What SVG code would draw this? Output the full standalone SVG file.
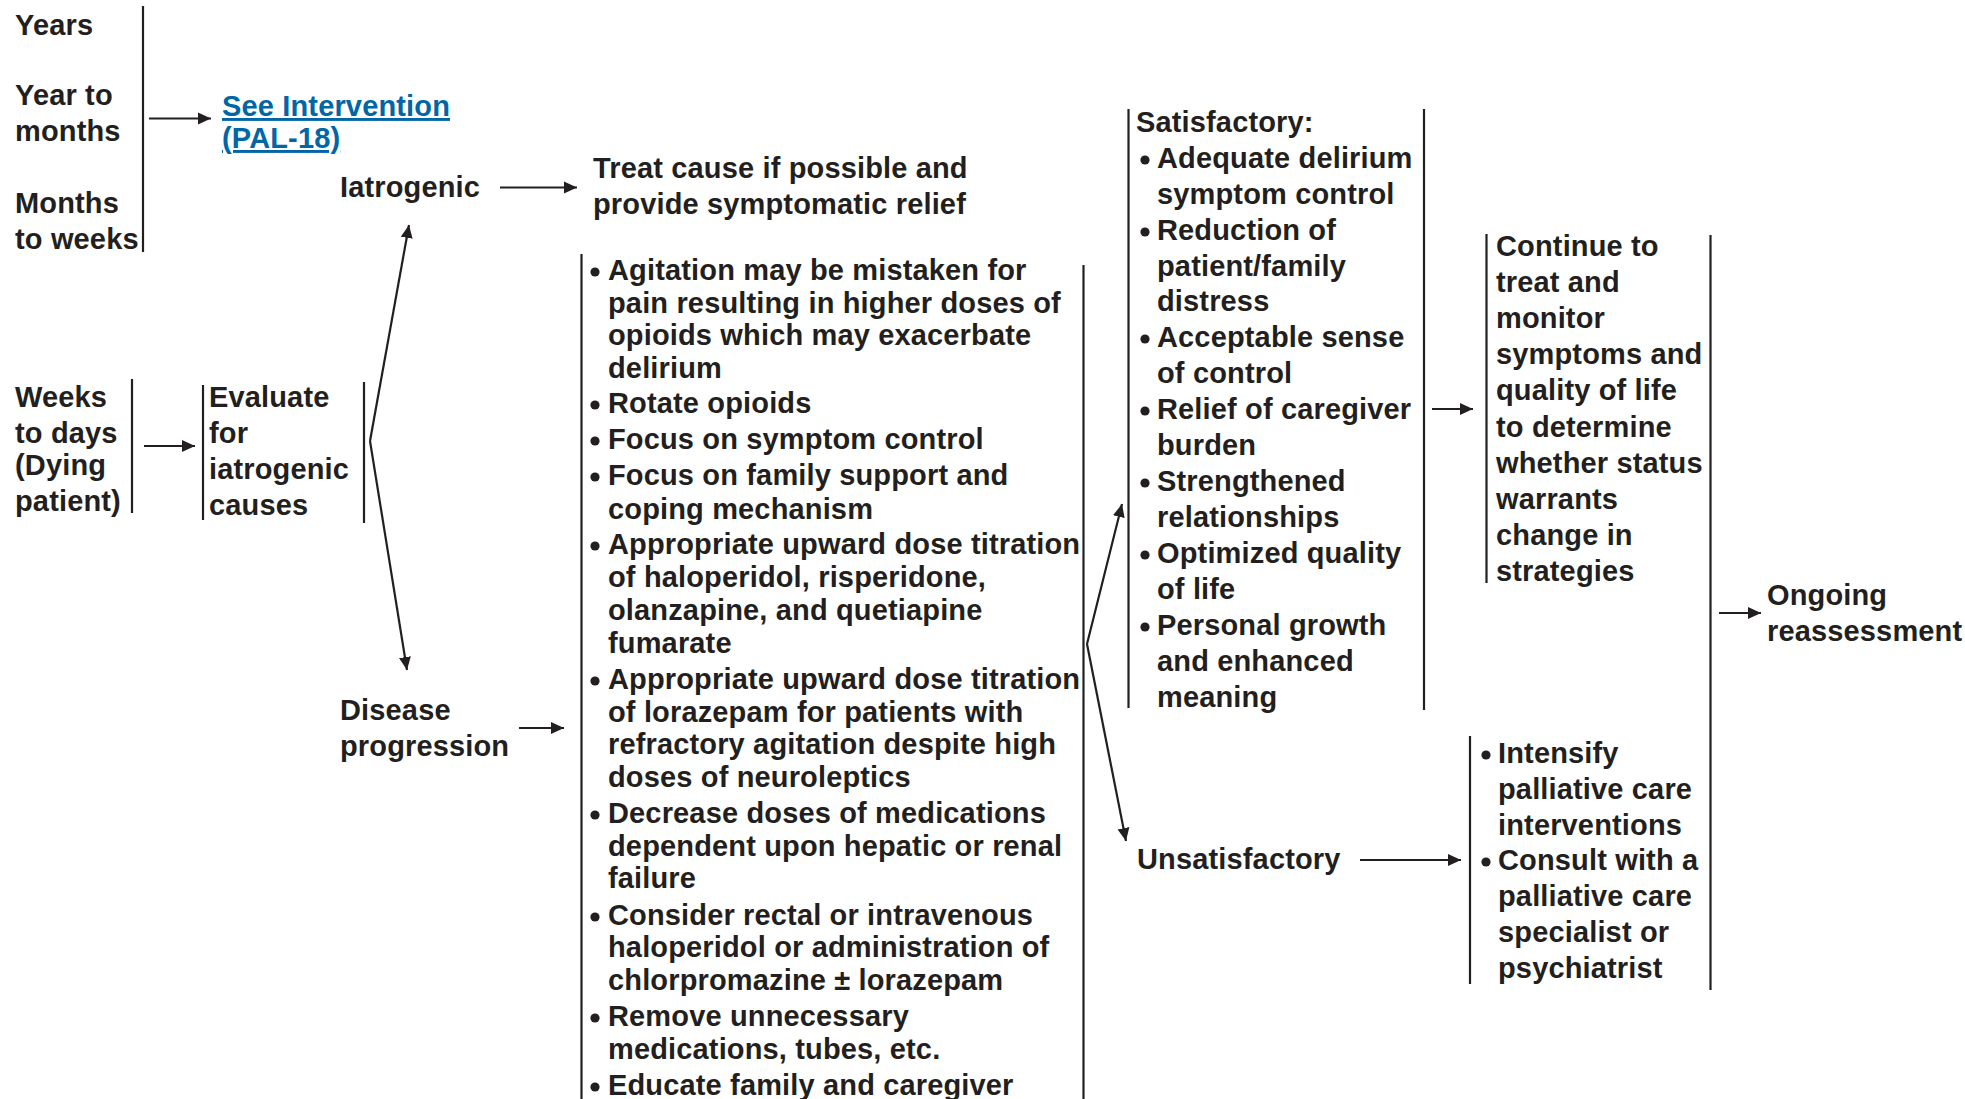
<svg xmlns="http://www.w3.org/2000/svg" width="1965" height="1099" viewBox="0 0 1965 1099">
<style>
.t{font-family:"Liberation Sans",Arial,Helvetica,sans-serif;font-weight:bold;font-size:29px;letter-spacing:0.15px;fill:#231f20}
.link{fill:#0066a6;text-decoration:underline}
.br{stroke:#231f20;stroke-width:2.2;fill:none}
.cn{stroke:#231f20;stroke-width:2.2;fill:none;marker-end:url(#ah)}
.bu{fill:#231f20}
</style>
<defs>
<marker id="ah" markerUnits="userSpaceOnUse" markerWidth="14" markerHeight="13" refX="13" refY="6.5" orient="auto">
<path d="M0,0.5 L13,6.5 L0,12.5 z" fill="#231f20"/>
</marker>
</defs>
<rect width="1965" height="1099" fill="#ffffff"/>

<g id="timeframes-early">
<text class="t"><tspan x="15" y="35">Years</tspan><tspan x="15" y="105">Year to</tspan><tspan x="15" y="141">months</tspan><tspan x="15" y="213">Months</tspan><tspan x="15" y="249">to weeks</tspan></text>
<line class="br" x1="143" y1="6" x2="143" y2="252"/>
</g>

<g id="see-intervention">
<text class="t link"><tspan x="222" y="116">See Intervention</tspan><tspan x="222" y="148">(PAL-18)</tspan></text>
</g>

<g id="weeks-to-days">
<text class="t"><tspan x="15" y="407">Weeks</tspan><tspan x="15" y="443">to days</tspan><tspan x="15" y="475">(Dying</tspan><tspan x="15" y="511">patient)</tspan></text>
<line class="br" x1="132" y1="379" x2="132" y2="513"/>
</g>

<g id="evaluate">
<line class="br" x1="203" y1="385" x2="203" y2="520"/>
<text class="t"><tspan x="209" y="407">Evaluate</tspan><tspan x="209" y="443">for</tspan><tspan x="209" y="479">iatrogenic</tspan><tspan x="209" y="515">causes</tspan></text>
<line class="br" x1="364" y1="382" x2="364" y2="523"/>
</g>

<g id="iatrogenic">
<text class="t" x="340" y="197">Iatrogenic</text>
</g>

<g id="treat-cause">
<text class="t"><tspan x="593" y="178">Treat cause if possible and</tspan><tspan x="593" y="214">provide symptomatic relief</tspan></text>
</g>

<g id="disease-progression">
<text class="t"><tspan x="340" y="720">Disease</tspan><tspan x="340" y="756">progression</tspan></text>
</g>

<g id="interventions">
<line class="br" x1="581.5" y1="254" x2="581.5" y2="1099"/>
<line class="br" x1="1083.5" y1="265" x2="1083.5" y2="1099"/>
<circle class="bu" cx="595" cy="272" r="4.6"/>
<circle class="bu" cx="595" cy="405" r="4.6"/>
<circle class="bu" cx="595" cy="441" r="4.6"/>
<circle class="bu" cx="595" cy="477" r="4.6"/>
<circle class="bu" cx="595" cy="546" r="4.6"/>
<circle class="bu" cx="595" cy="681" r="4.6"/>
<circle class="bu" cx="595" cy="815" r="4.6"/>
<circle class="bu" cx="595" cy="917" r="4.6"/>
<circle class="bu" cx="595" cy="1018" r="4.6"/>
<circle class="bu" cx="595" cy="1087" r="4.6"/>
<text class="t">
<tspan x="608" y="280">Agitation may be mistaken for</tspan>
<tspan x="608" y="313">pain resulting in higher doses of</tspan>
<tspan x="608" y="345">opioids which may exacerbate</tspan>
<tspan x="608" y="378">delirium</tspan>
<tspan x="608" y="413">Rotate opioids</tspan>
<tspan x="608" y="449">Focus on symptom control</tspan>
<tspan x="608" y="485">Focus on family support and</tspan>
<tspan x="608" y="519">coping mechanism</tspan>
<tspan x="608" y="554">Appropriate upward dose titration</tspan>
<tspan x="608" y="587">of haloperidol, risperidone,</tspan>
<tspan x="608" y="620">olanzapine, and quetiapine</tspan>
<tspan x="608" y="653">fumarate</tspan>
<tspan x="608" y="689">Appropriate upward dose titration</tspan>
<tspan x="608" y="722">of lorazepam for patients with</tspan>
<tspan x="608" y="754">refractory agitation despite high</tspan>
<tspan x="608" y="787">doses of neuroleptics</tspan>
<tspan x="608" y="823">Decrease doses of medications</tspan>
<tspan x="608" y="856">dependent upon hepatic or renal</tspan>
<tspan x="608" y="888">failure</tspan>
<tspan x="608" y="925">Consider rectal or intravenous</tspan>
<tspan x="608" y="957">haloperidol or administration of</tspan>
<tspan x="608" y="990">chlorpromazine ± lorazepam</tspan>
<tspan x="608" y="1026">Remove unnecessary</tspan>
<tspan x="608" y="1059">medications, tubes, etc.</tspan>
<tspan x="608" y="1095">Educate family and caregiver</tspan>
</text>
</g>

<g id="satisfactory">
<line class="br" x1="1128.5" y1="109" x2="1128.5" y2="708"/>
<line class="br" x1="1424" y1="109" x2="1424" y2="710"/>
<circle class="bu" cx="1145" cy="160" r="4.6"/>
<circle class="bu" cx="1145" cy="232" r="4.6"/>
<circle class="bu" cx="1145" cy="339" r="4.6"/>
<circle class="bu" cx="1145" cy="411" r="4.6"/>
<circle class="bu" cx="1145" cy="483" r="4.6"/>
<circle class="bu" cx="1145" cy="555" r="4.6"/>
<circle class="bu" cx="1145" cy="627" r="4.6"/>
<text class="t">
<tspan x="1136" y="132">Satisfactory:</tspan>
<tspan x="1157" y="168">Adequate delirium</tspan>
<tspan x="1157" y="204">symptom control</tspan>
<tspan x="1157" y="240">Reduction of</tspan>
<tspan x="1157" y="276">patient/family</tspan>
<tspan x="1157" y="311">distress</tspan>
<tspan x="1157" y="347">Acceptable sense</tspan>
<tspan x="1157" y="383">of control</tspan>
<tspan x="1157" y="419">Relief of caregiver</tspan>
<tspan x="1157" y="455">burden</tspan>
<tspan x="1157" y="491">Strengthened</tspan>
<tspan x="1157" y="527">relationships</tspan>
<tspan x="1157" y="563">Optimized quality</tspan>
<tspan x="1157" y="599">of life</tspan>
<tspan x="1157" y="635">Personal growth</tspan>
<tspan x="1157" y="671">and enhanced</tspan>
<tspan x="1157" y="707">meaning</tspan>
</text>
</g>

<g id="unsatisfactory">
<text class="t" x="1137" y="869">Unsatisfactory</text>
</g>

<g id="continue">
<line class="br" x1="1486.5" y1="234" x2="1486.5" y2="583"/>
<text class="t">
<tspan x="1496" y="256">Continue to</tspan>
<tspan x="1496" y="292">treat and</tspan>
<tspan x="1496" y="328">monitor</tspan>
<tspan x="1496" y="364">symptoms and</tspan>
<tspan x="1496" y="400">quality of life</tspan>
<tspan x="1496" y="437">to determine</tspan>
<tspan x="1496" y="473">whether status</tspan>
<tspan x="1496" y="509">warrants</tspan>
<tspan x="1496" y="545">change in</tspan>
<tspan x="1496" y="581">strategies</tspan>
</text>
</g>

<g id="intensify">
<line class="br" x1="1470" y1="736" x2="1470" y2="984"/>
<circle class="bu" cx="1486" cy="755" r="4.6"/>
<circle class="bu" cx="1486" cy="862" r="4.6"/>
<text class="t">
<tspan x="1498" y="763">Intensify</tspan>
<tspan x="1498" y="799">palliative care</tspan>
<tspan x="1498" y="835">interventions</tspan>
<tspan x="1498" y="870">Consult with a</tspan>
<tspan x="1498" y="906">palliative care</tspan>
<tspan x="1498" y="942">specialist or</tspan>
<tspan x="1498" y="978">psychiatrist</tspan>
</text>
</g>

<g id="continue-intensify-bracket">
<line class="br" x1="1710.5" y1="235" x2="1710.5" y2="990"/>
</g>

<g id="ongoing">
<text class="t"><tspan x="1767" y="605">Ongoing</tspan><tspan x="1767" y="641">reassessment</tspan></text>
</g>

<g id="connectors">
<line class="cn" x1="149" y1="118.5" x2="211" y2="118.5"/>
<line class="cn" x1="144" y1="446" x2="195" y2="446"/>
<line class="cn" x1="370" y1="441" x2="409" y2="225"/>
<line class="cn" x1="370" y1="441" x2="407" y2="670"/>
<line class="cn" x1="500" y1="187.5" x2="577" y2="187.5"/>
<line class="cn" x1="519" y1="728" x2="564" y2="728"/>
<line class="cn" x1="1087" y1="644" x2="1122" y2="504"/>
<line class="cn" x1="1087" y1="644" x2="1126" y2="841"/>
<line class="cn" x1="1432" y1="409" x2="1473" y2="409"/>
<line class="cn" x1="1360" y1="860" x2="1461" y2="860"/>
<line class="cn" x1="1719" y1="613" x2="1761" y2="613"/>
</g>
</svg>
